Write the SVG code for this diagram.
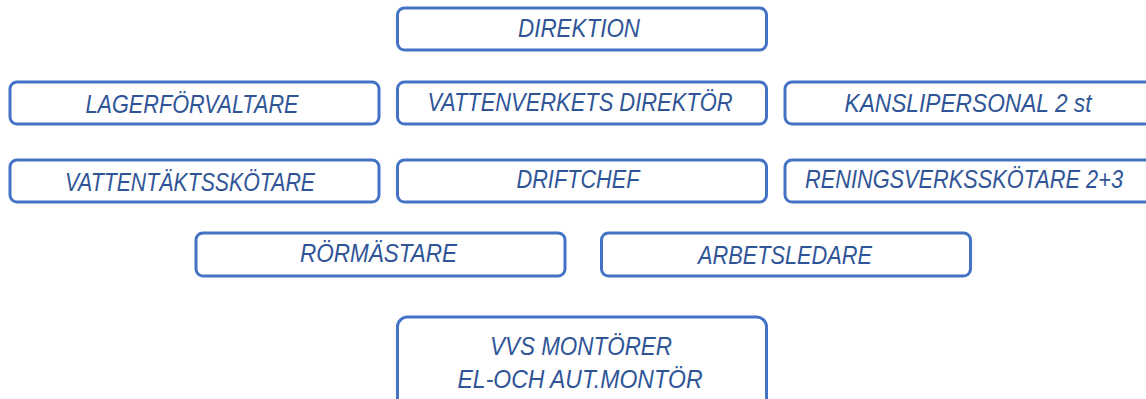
<svg xmlns="http://www.w3.org/2000/svg" width="1146" height="399" viewBox="0 0 1146 399">
<style>
.box{fill:#ffffff;stroke:#4472C4;stroke-width:3}
.t{font-family:"Liberation Sans",Arial,sans-serif;font-style:italic;font-size:25px;fill:#2F5597;text-anchor:middle}
</style>
<rect width="1146" height="399" fill="#ffffff"/>
<g id="connectors"></g>
<g id="direktion"><rect class="box" x="397.5" y="8" width="369" height="42" rx="7"/><text class="t" x="579" y="37" textLength="122" lengthAdjust="spacingAndGlyphs">DIREKTION</text></g>
<g id="lagerforvaltare"><rect class="box" x="10" y="82" width="369" height="42" rx="7"/><text class="t" x="192" y="113" textLength="213" lengthAdjust="spacingAndGlyphs">LAGERFÖRVALTARE</text></g>
<g id="vattenverkets-direktor"><rect class="box" x="397.5" y="82" width="369" height="42" rx="7"/><text class="t" x="580" y="111" textLength="305" lengthAdjust="spacingAndGlyphs">VATTENVERKETS DIREKTÖR</text></g>
<g id="kanslipersonal"><rect class="box" x="785" y="82" width="369" height="42" rx="7"/><text class="t" x="968" y="112" textLength="247" lengthAdjust="spacingAndGlyphs">KANSLIPERSONAL 2 st</text></g>
<g id="vattentaktsskotare"><rect class="box" x="10" y="160" width="369" height="42" rx="7"/><text class="t" x="190" y="191" textLength="250" lengthAdjust="spacingAndGlyphs">VATTENTÄKTSSKÖTARE</text></g>
<g id="driftchef"><rect class="box" x="397.5" y="160" width="369" height="42" rx="7"/><text class="t" x="578" y="188" textLength="123" lengthAdjust="spacingAndGlyphs">DRIFTCHEF</text></g>
<g id="reningsverksskotare"><rect class="box" x="785" y="160" width="369" height="42" rx="7"/><text class="t" x="964" y="188" textLength="318" lengthAdjust="spacingAndGlyphs">RENINGSVERKSSKÖTARE 2+3</text></g>
<g id="rormastare"><rect class="box" x="196" y="233" width="369" height="43" rx="7"/><text class="t" x="378.5" y="262" textLength="157" lengthAdjust="spacingAndGlyphs">RÖRMÄSTARE</text></g>
<g id="arbetsledare"><rect class="box" x="601.5" y="233" width="369" height="43" rx="7"/><text class="t" x="785" y="264" textLength="174" lengthAdjust="spacingAndGlyphs">ARBETSLEDARE</text></g>
<g id="vvs-montorer"><rect class="box" x="397.5" y="317" width="369" height="100" rx="10"/><text class="t" x="581" y="355" textLength="182" lengthAdjust="spacingAndGlyphs">VVS MONTÖRER</text><text class="t" x="580" y="388" textLength="245" lengthAdjust="spacingAndGlyphs">EL-OCH AUT.MONTÖR</text></g>
</svg>
